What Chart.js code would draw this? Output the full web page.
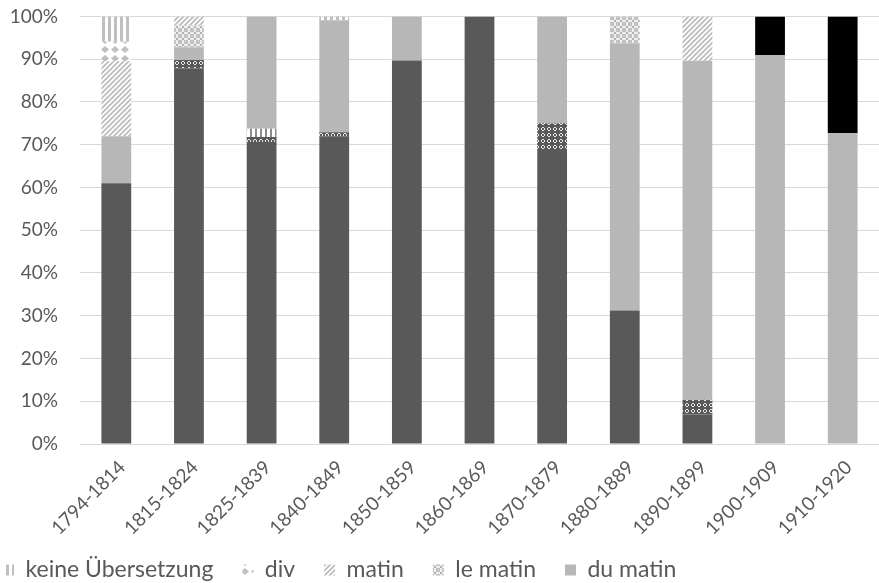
<!DOCTYPE html>
<html>
<head>
<meta charset="utf-8">
<script src="https://cdn.jsdelivr.net/npm/chart.js@4"></script>
<style>
  html, body { margin: 0; padding: 0; background: #ffffff; }
  #wrap { width: 879px; height: 583px; }
</style>
</head>
<body>
<div id="wrap"><canvas id="c" width="879" height="583"></canvas></div>
<script>
// Zeiträume (x-Achse)
const categories = ['1794-1814', '1815-1824', '1825-1839', '1840-1849', '1850-1859',
  '1860-1869', '1870-1879', '1880-1889', '1890-1899', '1900-1909', '1910-1920'];

// Anteile je Übersetzungsvariante in Prozent (Stapel von unten nach oben)
const auMatin          = [61.0, 87.9, 70.6, 72.0, 89.7, 100, 68.75, 31.25, 6.9, 0, 0];
const ceMatin          = [0, 1.9, 1.2, 0.9, 0, 0, 6.25, 0, 3.45, 0, 0];
const desMatins        = [0, 0, 1.9, 0, 0, 0, 0, 0, 0, 0, 0];
const duMatin          = [11.0, 3.0, 26.3, 26.2, 10.3, 0, 25.0, 62.5, 79.3, 90.9, 72.7];
const leMatin          = [0, 5.1, 0, 0, 0, 0, 0, 6.25, 0, 0, 0];
const matin            = [17.5, 2.1, 0, 0, 0, 0, 0, 0, 10.35, 0, 0];
const div              = [4.6, 0, 0, 0, 0, 0, 0, 0, 0, 0, 0];
const keineUebersetzung = [5.9, 0, 0, 0.9, 0, 0, 0, 0, 0, 0, 0];
const morgens          = [0, 0, 0, 0, 0, 0, 0, 0, 0, 9.1, 27.3];

// Beschriftung der y-Achse
const yTicks = [0, 10, 20, 30, 40, 50, 60, 70, 80, 90, 100];

const FONT = 'Lato, "Open Sans", sans-serif';
const TEXT = '#595959';

function makePattern(w, h, draw) {
  const cv = document.createElement('canvas');
  cv.width = w; cv.height = h;
  const g = cv.getContext('2d');
  draw(g, w, h);
  return g.createPattern(cv, 'repeat');
}

// Füllmuster
const patVertical = makePattern(6, 2, (g, w, h) => {
  g.fillStyle = '#ffffff'; g.fillRect(0, 0, w, h);
  g.fillStyle = '#bfbfbf'; g.fillRect(0, 0, 3, h);
});
const patDiamond = makePattern(10, 9, (g, w, h) => {
  g.fillStyle = '#ffffff'; g.fillRect(0, 0, w, h);
  g.fillStyle = '#bfbfbf';
  g.beginPath();
  g.moveTo(5, 1); g.lineTo(9, 4.5); g.lineTo(5, 8); g.lineTo(1, 4.5); g.closePath();
  g.fill();
});
const patDiagonal = makePattern(5, 5, (g, w, h) => {
  g.fillStyle = '#ffffff'; g.fillRect(0, 0, w, h);
  g.strokeStyle = '#bdbdbd'; g.lineWidth = 1.8;
  g.beginPath();
  g.moveTo(-1, 6); g.lineTo(6, -1);
  g.moveTo(-1, 1); g.lineTo(1, -1);
  g.moveTo(4, 6); g.lineTo(6, 4);
  g.stroke();
});
const patLightCheck = makePattern(6, 6, (g, w, h) => {
  g.fillStyle = '#c2c2c2'; g.fillRect(0, 0, w, h);
  g.fillStyle = '#eeeeee';
  g.fillRect(2, 0, 2, 6); g.fillRect(0, 2, 6, 2);
  g.fillStyle = '#b0b0b0'; g.fillRect(2, 2, 2, 2);
});
const patDarkCross = makePattern(6, 6, (g, w, h) => {
  g.fillStyle = '#595959'; g.fillRect(0, 0, w, h);
  g.fillStyle = '#e6e6e6';
  g.fillRect(2, 1, 2, 4); g.fillRect(1, 2, 4, 2);
  g.fillStyle = '#595959'; g.fillRect(2, 2, 2, 2);
});
const patDarkVertical = makePattern(5, 2, (g, w, h) => {
  g.fillStyle = '#ffffff'; g.fillRect(0, 0, w, h);
  g.fillStyle = '#8a8a8a'; g.fillRect(0, 0, 2, h);
});

function series(label, data, fill, inLegend) {
  return { label, data, backgroundColor: fill, borderWidth: 0, inLegend };
}

const datasets = [
  series('au matin', auMatin, '#595959', false),
  series('ce matin', ceMatin, patDarkCross, false),
  series('des matins', desMatins, patDarkVertical, false),
  series('du matin', duMatin, '#b7b7b7', true),
  series('le matin', leMatin, patLightCheck, true),
  series('matin', matin, patDiagonal, true),
  series('div', div, patDiamond, true),
  series('keine Übersetzung', keineUebersetzung, patVertical, true),
  series('morgens', morgens, '#000000', false)
];

const LEGEND_PAD = 29;

// let the slanted period labels run past the axis box instead of being clipped
const uncropXLabels = {
  id: 'uncropXLabels',
  afterLayout(chart) { chart.scales.x.bottom = chart.height; }
};

new Chart(document.getElementById('c'), {
  type: 'bar',
  data: { labels: categories, datasets },
  plugins: [uncropXLabels],
  options: {
    responsive: false,
    animation: false,
    devicePixelRatio: 1,
    layout: { padding: { top: 0, right: 0, bottom: -8.5, left: 3 - LEGEND_PAD } },
    datasets: { bar: { categoryPercentage: 1, barPercentage: 0.41 } },
    plugins: {
      tooltip: { enabled: false },
      legend: {
        position: 'bottom',
        align: 'start',
        reverse: true,
        labels: {
          filter: (item, data) => data.datasets[item.datasetIndex].inLegend,
          font: { family: FONT, size: 23 },
          color: TEXT,
          boxWidth: 11,
          boxHeight: 11,
          padding: LEGEND_PAD
        }
      }
    },
    scales: {
      x: {
        stacked: true,
        grid: { display: false },
        border: { display: true, color: '#d9d9d9', width: 1 },
        ticks: {
          autoSkip: false,
          maxRotation: 45,
          minRotation: 45,
          labelOffset: 6,
          padding: 4,
          font: { family: FONT, size: 19 },
          color: TEXT
        },
        afterFit: (s) => { s.height = 85.5; }
      },
      y: {
        stacked: true,
        min: 0,
        max: 100,
        afterBuildTicks: (s) => { s.ticks = yTicks.map(v => ({ value: v })); },
        grid: { color: '#d9d9d9', lineWidth: 1, drawTicks: true, tickLength: 17, tickColor: 'rgba(0,0,0,0)' },
        border: { display: false },
        ticks: {
          padding: 5,
          font: { family: FONT, size: 19 },
          color: TEXT,
          callback: (v) => v + '%'
        },
        afterFit: (s) => { s.width = 80 - (3 - LEGEND_PAD); }
      }
    }
  }
});
</script>
</body>
</html>
